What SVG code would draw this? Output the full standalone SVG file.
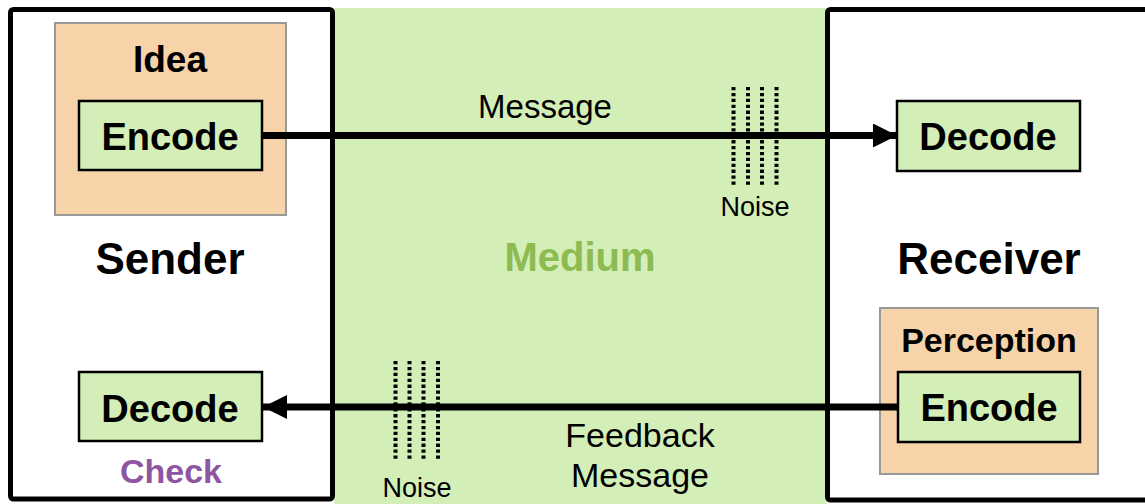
<svg xmlns="http://www.w3.org/2000/svg" width="1145" height="504" viewBox="0 0 1145 504">
<style>
text{font-family:"Liberation Sans",Arial,sans-serif;fill:#000;text-anchor:middle}
.b{font-weight:bold}
.frame{fill:none;stroke:#000;stroke-width:5}
.inner{fill:#d3eeb7;stroke:#000;stroke-width:2.5}
.outer{fill:#f6d3a8;stroke:#999;stroke-width:2}
.conn{stroke:#000;stroke-width:7;fill:none}
.noise{stroke:#000;stroke-width:4;stroke-dasharray:3.3 2.6}
</style>
<defs>
<marker id="ah" markerUnits="userSpaceOnUse" markerWidth="26" markerHeight="26" refX="24" refY="12" orient="auto">
<path d="M0,0 L24,12 L0,24 Z" fill="#000"/>
</marker>
</defs>
<rect width="1145" height="504" fill="#fff"/>
<g id="medium">
<rect x="334" y="8" width="493" height="496" fill="#d3eeb7"/>
<text class="b" x="580" y="271" font-size="40" style="fill:#8dba51">Medium</text>
</g>
<g id="sender">
<rect class="frame" x="10.5" y="9.5" width="322" height="489.5" rx="3"/>
<text class="b" x="170" y="274" font-size="44">Sender</text>
</g>
<g id="receiver">
<rect class="frame" x="827.5" y="9.5" width="330" height="490.5" rx="3"/>
<text class="b" x="989" y="274" font-size="44">Receiver</text>
</g>
<g id="idea">
<rect class="outer" x="55" y="23" width="231" height="192"/>
<text class="b" x="170" y="72" font-size="37">Idea</text>
</g>
<g id="sender-encode">
<rect class="inner" x="79" y="101" width="183" height="69"/>
<text class="b" x="170" y="150" font-size="38">Encode</text>
</g>
<g id="receiver-decode">
<rect class="inner" x="897" y="101" width="183" height="70"/>
<text class="b" x="988" y="150" font-size="38">Decode</text>
</g>
<g id="perception">
<rect class="outer" x="880" y="308" width="218" height="166"/>
<text class="b" x="989" y="352" font-size="34">Perception</text>
</g>
<g id="receiver-encode">
<rect class="inner" x="898" y="372" width="182" height="70"/>
<text class="b" x="989" y="421" font-size="38">Encode</text>
</g>
<g id="sender-decode">
<rect class="inner" x="79" y="372" width="183" height="69"/>
<text class="b" x="170" y="422" font-size="38">Decode</text>
</g>
<g id="check">
<text class="b" x="171" y="483" font-size="34" style="fill:#8e55a3">Check</text>
</g>
<g id="connectors">
<line class="conn" x1="262" y1="135.5" x2="897" y2="135.5" marker-end="url(#ah)"/>
<line class="conn" x1="898" y1="407" x2="263" y2="407" marker-end="url(#ah)"/>
<text x="545" y="118" font-size="33">Message</text>
<text x="640" y="447" font-size="34">Feedback</text>
<text x="640" y="487" font-size="34">Message</text>
</g>
<g id="noise-top">
<line class="noise" x1="733.5" y1="87" x2="733.5" y2="185"/>
<line class="noise" x1="748" y1="87" x2="748" y2="185"/>
<line class="noise" x1="762" y1="87" x2="762" y2="185"/>
<line class="noise" x1="776.5" y1="87" x2="776.5" y2="185"/>
<text x="755" y="216" font-size="27">Noise</text>
</g>
<g id="noise-bottom">
<line class="noise" x1="395.5" y1="361" x2="395.5" y2="460"/>
<line class="noise" x1="409.5" y1="361" x2="409.5" y2="460"/>
<line class="noise" x1="423.5" y1="361" x2="423.5" y2="460"/>
<line class="noise" x1="438" y1="361" x2="438" y2="460"/>
<text x="417" y="497" font-size="27">Noise</text>
</g>
</svg>
